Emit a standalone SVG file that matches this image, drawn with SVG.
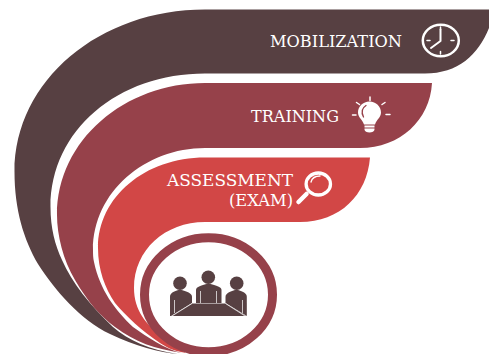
<svg xmlns="http://www.w3.org/2000/svg" width="489" height="354" viewBox="0 0 489 354">
<style>
text{font-family:"DejaVu Serif","Liberation Serif",serif;font-size:16.5px;fill:#fff}
.ic{fill:none;stroke:#fff;stroke-linecap:round}
.d{fill:#574042}
</style>
<rect width="489" height="354" fill="#fff"/>
<g id="band-mobilization">
<path class="d" d="M205 9.500H489V28C478 55 458 73.500 425 73.500H205C118 73.500 50.500 130 50.500 207C50.500 228 55 245 62 260C72 283 90 305 113 327C128 340 150 350 178 354C160 352.500 135 346 110 334C80 320 55 290 38 264C24 240 14.500 210 14.500 172C14.500 80 100 9.500 205 9.500Z"/>
<text x="270" y="46.500" textLength="132" lengthAdjust="spacingAndGlyphs">MOBILIZATION</text>
<g>
<ellipse class="ic" cx="440.800" cy="40.500" rx="18" ry="15.800" stroke-width="2.500"/>
<path class="ic" stroke-width="1.500" d="M440.500 27v2.500M440.500 51.500v2.500M427 40.500h3M451 40.500h3"/>
<path class="ic" stroke-width="2" d="M440.500 41V29.500M440.500 41L431 48"/>
</g>
</g>
<g id="band-training">
<path fill="#96414a" d="M205 83H432C430 120 400 148 360 148H205C145 148 93 192 93 250C93 254 93 258 94 262C100 290 115 310 133 327C147 337 165 349 182 353C155 349 135 342 115 327C100 316 88 302 75 280C63 260 57 235 57 215C57 140 125 83 205 83Z"/>
<text x="251" y="121.500" textLength="88" lengthAdjust="spacingAndGlyphs">TRAINING</text>
<g>
<path class="ic" stroke-width="1.500" d="M370 97v3.500M356.500 102.500l3 2M385 102.500l-3 2M352.500 115h3.500M386 114.500h4"/>
<path fill="#fff" d="M369.500 101.500C376 101.500 381 106.500 381 112.500C381 117.500 376.500 119.500 375 124.500H364C362.500 119.500 358 117.500 358 112.500C358 106.500 363 101.500 369.500 101.500Z"/>
<path fill="#fff" d="M364.500 125.500h10v2h-10zM364.500 128.500h10v1C374.500 131.500 372 132.500 369.500 132.500C367 132.500 364.500 131.500 364.500 129.500Z"/>
<path fill="none" stroke="#96414a" stroke-linecap="round" stroke-width="1.300" d="M363.500 117C361 112 362 108 366 105.500"/>
</g>
</g>
<g id="band-assessment">
<path fill="#d24746" d="M205 157.500H370C367 195 340 222 300 222H205C165 222 134 250 134 288C134 310 146 325 163 337C172 344 180 349 186 353C172 351 165 346 160 343C143 332 125 315 115 303C105 288 98 270 98 248C98 197 145 157.500 205 157.500Z"/>
<text x="167" y="185.500" textLength="126" lengthAdjust="spacingAndGlyphs">ASSESSMENT</text>
<text x="229" y="205.500" textLength="64" lengthAdjust="spacingAndGlyphs">(EXAM)</text>
<g>
<ellipse class="ic" cx="318.300" cy="184" rx="12.200" ry="11" stroke-width="3.300"/>
<path class="ic" stroke-width="4.500" d="M306.500 194L298.500 202"/>
<path class="ic" stroke-width="1.300" d="M311 182C312 178 316 176 320 176"/>
</g>
</g>
<g id="team">
<ellipse cx="208.500" cy="294.700" rx="64" ry="57" fill="#fff" stroke="#96414a" stroke-width="9"/>
<g class="d">
<circle cx="180" cy="283.300" r="6.800"/>
<circle cx="208.300" cy="277.300" r="6.800"/>
<circle cx="236.700" cy="283.300" r="6.800"/>
<path d="M170 316V297C170 293 173 291.500 180 289.500C187 291.500 192 293 192 297V303L171 316Z"/>
<path d="M196 303V290C196 287 200 285.500 208.500 283.500C217 285.500 221.500 287 221.500 290V303Z"/>
<path d="M225.500 303V297C225.500 293 230 291.500 236.500 289.500C243 291.500 246.800 293 246.800 297V316Z"/>
<path d="M192 303.500H225.500L246 316H171.500Z"/>
</g>
<path d="M170.500 316.500H246.500M172 316L192 303.500M245 316L225.500 303.500M200.500 291V303M216.500 291V303M174.500 300V313M242.500 300V313" stroke="#fff" stroke-width=".7" fill="none"/>
</g>
</svg>
